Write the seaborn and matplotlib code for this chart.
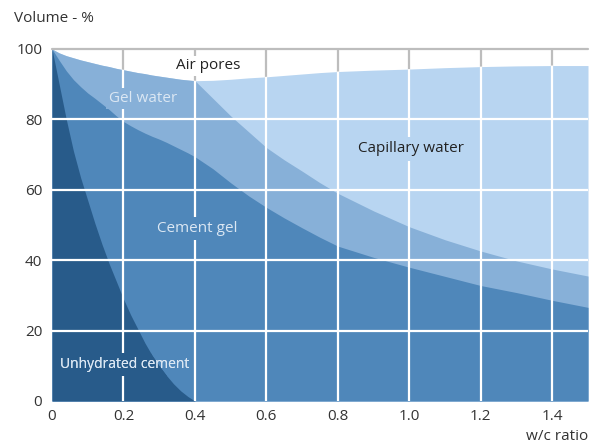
import numpy as np
import matplotlib
matplotlib.use("Agg")
from matplotlib import pyplot as plt
import seaborn as sns

# w/c ratio and cumulative boundaries (volume %)
wc = [0, .02, .04, .06, .08, .1, .12, .14, .16, .18, .2, .22, .24, .26, .28,
      .3, .32, .34, .36, .38, .4, .45, .5, .55, .6, .65, .7, .75, .8, .9,
      1.0, 1.1, 1.2, 1.3, 1.4, 1.5]
unhydrated_top = [100, 90, 80, 71, 63.5, 57, 50.5, 44.5, 39, 34, 29, 24.5, 20.5,
                  16.5, 13, 10, 7.3, 4.9, 2.9, 1.3, 0, 0, 0, 0, 0, 0, 0, 0,
                  0, 0, 0, 0, 0, 0, 0, 0]
cement_gel_top = [100, 96.8, 93.8, 91.3, 89.3, 87.5, 86, 84.4, 82.8, 81, 79.4,
                  78.2, 77.1, 76.1, 75.2, 74.4, 73.5, 72.5, 71.5, 70.5, 69.4,
                  66, 62, 58.3, 55, 52, 49.2, 46.5, 44, 40.8, 38, 35.4, 32.8,
                  30.8, 28.6, 26.6]
gel_water_top = [100, 98.9, 98.1, 97.5, 96.9, 96.4, 95.9, 95.4, 95, 94.5, 94.1,
                 93.7, 93.3, 93, 92.6, 92.3, 92, 91.7, 91.4, 91.2, 91,
                 86, 81, 76.5, 72, 68.5, 65.3, 62, 59, 54, 49.5, 45.8, 42.6,
                 39.8, 37.5, 35.5]
capillary_top = [100, 98.9, 98.1, 97.5, 96.9, 96.4, 95.9, 95.4, 95, 94.5, 94.1,
                 93.7, 93.3, 93, 92.6, 92.3, 92, 91.7, 91.4, 91.2, 91,
                 91.1, 91.4, 91.8, 92.1, 92.5, 92.9, 93.3, 93.6, 94, 94.3,
                 94.7, 95, 95.2, 95.3, 95.3]

x_ticks = [0, 0.2, 0.4, 0.6, 0.8, 1.0, 1.2, 1.4]
x_labels = ["0", "0.2", "0.4", "0.6", "0.8", "1.0", "1.2", "1.4"]
y_ticks = [0, 20, 40, 60, 80, 100]

c_dark = "#285b8a"
c_gel = "#4f87ba"
c_gelwater = "#87b0d8"
c_cap = "#b8d5f1"
c_grey = "#bdbdbd"
c_text = "#333333"
c_light = "#dbe7f3"

sns.set_theme(style="white")
plt.rcParams["font.family"] = ["Open Sans", "DejaVu Sans"]

fig = plt.figure(figsize=(5.9, 4.47), dpi=100)
ax = fig.add_axes([52 / 590, 46 / 447, 536 / 590, 352 / 447])

x = np.array(wc)
zero = np.zeros_like(x)

# grey grid, visible only where nothing is filled (air pores)
for v in x_ticks[1:]:
    ax.axvline(v, color=c_grey, lw=1.6, zorder=0.5)

# stacked areas painted back to front from the baseline (no seams)
solid = ax.fill_between(x, zero, capillary_top, color=c_cap, lw=0, zorder=1)
ax.fill_between(x, zero, gel_water_top, color=c_gelwater, lw=0, zorder=1.1)
ax.fill_between(x, zero, cement_gel_top, color=c_gel, lw=0, zorder=1.2)
dark = ax.fill_between(x, zero, unhydrated_top, color=c_dark, lw=0, zorder=1.3)
clip_path = solid.get_paths()[0]

# white grid on top of the filled areas
for v in x_ticks[1:]:
    ln = ax.axvline(v, color="white", lw=1.6, zorder=2)
    ln.set_clip_path(clip_path, ax.transData)
for v in y_ticks[1:-1]:
    ax.axhline(v, color="white", lw=1.6, zorder=2)
ax.axhline(100, color=c_grey, lw=1.6, zorder=2.5, clip_on=False)

lab = dict(fontsize=11, ha="center", va="center", zorder=3)
ax.text(0.437, 95.2, "Air pores", color="#222222",
        bbox=dict(fc="white", ec="none", pad=2), **lab)
ax.text(0.255, 86, "Gel water", color=c_light,
        bbox=dict(fc=c_gelwater, ec="none", pad=2), **lab)
ax.text(1.005, 71.6, "Capillary water", color="#222222",
        bbox=dict(fc=c_cap, ec="none", pad=3), **lab)
ax.text(0.406, 49, "Cement gel", color=c_light,
        bbox=dict(fc=c_gel, ec="none", pad=3), **lab)
# dark patch behind the label only where the dark area is
under = ax.text(0.204, 10.3, "Unhydrated cement", color=c_light,
                bbox=dict(fc=c_dark, ec="none", pad=3), clip_on=True,
                **{**lab, "fontsize": 10})
under.set_clip_path(dark.get_paths()[0], ax.transData)
ax.text(0.204, 10.3, "Unhydrated cement", color=c_light,
        **{**lab, "fontsize": 10, "zorder": 3.5})

ax.set_xlim(0, 1.5)
ax.set_ylim(0, 100)
ax.set_xticks(x_ticks)
ax.set_xticklabels(x_labels)
ax.set_yticks(y_ticks)
ax.tick_params(axis="both", length=0, labelsize=11, colors=c_text)
ax.tick_params(axis="x", pad=6)
ax.tick_params(axis="y", pad=7)
for s in ax.spines.values():
    s.set_visible(False)
ax.grid(False)

fig.text(14 / 590, 1 - 18 / 447, "Volume - %", fontsize=11, color=c_text,
         ha="left", va="center")
fig.text(588 / 590, 1 - 437 / 447, "w/c ratio", fontsize=11, color=c_text,
         ha="right", va="center")

fig.savefig("out.png", dpi=100)
